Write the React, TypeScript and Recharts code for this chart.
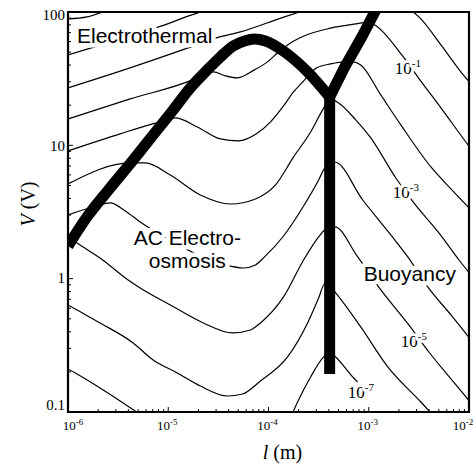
import React from 'react';
import { LineChart, Line, XAxis, YAxis, ReferenceArea, ReferenceDot } from 'recharts';

// every pair is [log10 of l in m, log10 of V in V]
type Pt = [number, number];

// thick regime boundaries
const boundaryEtAc: Pt[] = [
  [-6.0, 0.245], [-5.81, 0.463], [-5.58, 0.68], [-5.35, 0.89], [-5.15, 1.078], [-4.95, 1.266],
  [-4.78, 1.431], [-4.61, 1.566], [-4.48, 1.663], [-4.35, 1.746], [-4.24, 1.783], [-4.14, 1.798],
  [-4.03, 1.783], [-3.84, 1.701], [-3.61, 1.551], [-3.39, 1.363],
];
const boundaryBuoyUpper: Pt[] = [[-3.39, 1.363], [-3.24, 1.588], [-3.07, 1.813], [-2.94, 2.0], [-2.9, 2.061]];
const boundaryBuoyLower: Pt[] = [[-3.39, 1.363], [-3.39, -0.715]];

// thin contours, one decade of velocity apart
const contourP2: Pt[] = [[-6.0, 1.948], [-5.81, 1.963], [-5.63, 2.008]];
const contourP1: Pt[] = [
  [-6.0, 1.678], [-5.8, 1.723], [-5.38, 1.821], [-4.98, 1.918], [-4.85, 1.956], [-4.68, 2.001], [-4.63, 2.016],
];
const contour0: Pt[] = [
  [-6.0, 1.431], [-5.38, 1.581], [-4.83, 1.723], [-4.52, 1.806], [-4.28, 1.851], [-3.87, 1.956], [-3.66, 2.008],
];
const contour0Buoy: Pt[] = [[-2.58, 2.016], [-2.48, 1.948], [-2.28, 1.753], [-2.04, 1.513], [-1.98, 1.461]];
const contourM1: Pt[] = [
  [-6.0, 1.198], [-5.38, 1.348], [-4.76, 1.491], [-4.67, 1.521], [-4.55, 1.551], [-4.43, 1.521], [-4.31, 1.506],
  [-4.14, 1.566], [-4.01, 1.626], [-3.91, 1.693], [-3.78, 1.768], [-3.67, 1.813], [-3.37, 1.881], [-3.07, 1.918],
  [-3.02, 1.926], [-2.94, 1.903], [-2.67, 1.678], [-2.49, 1.491], [-2.28, 1.281], [-2.01, 1.003], [-1.98, 0.973],
];
const contourM2: Pt[] = [
  [-6.0, 0.958], [-5.48, 1.086], [-5.05, 1.183], [-4.93, 1.206], [-4.71, 1.138], [-4.48, 1.048], [-4.3, 1.033],
  [-4.12, 1.086], [-3.98, 1.176], [-3.85, 1.296], [-3.75, 1.401], [-3.64, 1.491], [-3.58, 1.543], [-3.52, 1.581],
  [-3.38, 1.611], [-3.24, 1.626], [-3.16, 1.626], [-3.08, 1.603], [-2.88, 1.378], [-2.68, 1.153], [-2.38, 0.838],
  [-2.18, 0.673], [-1.98, 0.515],
];
const contourM3: Pt[] = [
  [-6.0, 0.71], [-5.38, 0.868], [-5.23, 0.868], [-4.98, 0.778], [-4.68, 0.628], [-4.38, 0.56], [-4.13, 0.598],
  [-3.93, 0.703], [-3.75, 0.913], [-3.58, 1.1], [-3.46, 1.266], [-3.39, 1.348], [-3.3, 1.318], [-3.13, 1.191],
  [-2.98, 1.056], [-2.73, 0.755], [-2.55, 0.568], [-2.3, 0.343], [-2.1, 0.14], [-1.98, 0.028],
];
const contourM4: Pt[] = [
  [-6.0, 0.478], [-5.72, 0.545], [-5.58, 0.568], [-5.43, 0.508], [-5.28, 0.425], [-4.98, 0.29], [-4.68, 0.17],
  [-4.43, 0.103], [-4.25, 0.08], [-4.13, 0.103], [-4.04, 0.163], [-3.85, 0.32], [-3.65, 0.545], [-3.5, 0.74],
  [-3.44, 0.83], [-3.39, 0.875], [-3.34, 0.875], [-3.06, 0.59], [-2.78, 0.328], [-2.61, 0.163], [-2.41, -0.063],
  [-2.18, -0.272], [-1.98, -0.46],
];
const contourM5: Pt[] = [
  [-5.98, 0.305], [-5.91, 0.268], [-5.68, 0.155], [-5.4, -0.01], [-5.28, -0.07], [-4.98, -0.197], [-4.65, -0.332],
  [-4.36, -0.407], [-4.18, -0.385], [-4.08, -0.332], [-3.85, -0.137], [-3.65, 0.14], [-3.5, 0.313], [-3.44, 0.365],
  [-3.39, 0.38], [-3.34, 0.388], [-3.11, 0.163], [-2.9, -0.063], [-2.6, -0.347], [-2.4, -0.55], [-2.18, -0.752],
  [-1.98, -0.932],
];
const contourM6: Pt[] = [
  [-6.0, -0.197], [-5.91, -0.235], [-5.68, -0.332], [-5.35, -0.482], [-5.15, -0.61], [-4.91, -0.707],
  [-4.68, -0.805], [-4.41, -0.88], [-4.26, -0.865], [-4.08, -0.767], [-3.81, -0.587], [-3.61, -0.332],
  [-3.5, -0.145], [-3.44, -0.04], [-3.39, -0.055], [-3.33, -0.107], [-3.08, -0.362], [-2.81, -0.662],
  [-2.48, -0.925], [-2.37, -1.015],
];
const contourM7Left: Pt[] = [[-6.0, -0.677], [-5.91, -0.715], [-5.68, -0.82], [-5.48, -0.917], [-5.3, -1.008]];
const contourM7Right: Pt[] = [
  [-3.76, -1.008], [-3.71, -0.925], [-3.58, -0.737], [-3.45, -0.587], [-3.39, -0.55], [-3.33, -0.587],
  [-3.15, -0.745], [-3.11, -0.775],
];

const contours = [
  contourP2, contourP1, contour0, contour0Buoy, contourM1, contourM2, contourM3,
  contourM4, contourM5, contourM6, contourM7Left, contourM7Right,
];

const regionLabels = [
  { lines: ['Electrothermal'], l: 1.23e-6, v: 58.6, anchor: 'start' },
  { lines: ['AC Electro-', 'osmosis'], l: 1.55e-5, v: 1.79, anchor: 'middle' },
  { lines: ['Buoyancy'], l: 8.9e-4, v: 0.96, anchor: 'start' },
];
const decadeLabels = [
  { exp: '-1', l: 1.82e-3, v: 34.3 },
  { exp: '-3', l: 1.74e-3, v: 4.03 },
  { exp: '-5', l: 2.09e-3, v: 0.307 },
  { exp: '-7', l: 6.17e-4, v: 0.127 },
];

const xMajor = [1e-6, 1e-5, 1e-4, 1e-3, 1e-2];
const xExponents = ['-6', '-5', '-4', '-3', '-2'];
const yMajor = [0.1, 1, 10, 100];
const yTickText = ['0.1', '1', '10', '100'];
const minorSteps = [2, 3, 4, 5, 6, 7, 8, 9];

const withMinor = (majors: number[]) =>
  [...majors, ...majors.slice(0, -1).flatMap((m) => minorSteps.map((k) => m * k))].sort((a, b) => a - b);
const xTicks = withMinor(xMajor);
const yTicks = withMinor(yMajor);

const rows = (pts: Pt[]) => pts.map(([a, b]) => ({ l: 10 ** a, v: 10 ** b }));

const SERIF = '"Liberation Serif", "Times New Roman", serif';
const SANS = '"Liberation Sans", Arial, sans-serif';

const xLabelShift = [5, -1, -1, -1, -6];

const BottomTick = ({ x, y, payload }: any) => {
  const i = xMajor.indexOf(payload.value);
  return (
    <g>
      <line x1={x} x2={x} y1={y} y2={y - (i >= 0 ? 5 : 3)} stroke="#000" />
      {i >= 0 && (
        <text x={x + xLabelShift[i]} y={y + 18} textAnchor="middle" fontFamily={SERIF} fontSize={13} fill="#000">
          10<tspan dy={-5} fontSize={9}>{xExponents[i]}</tspan>
        </text>
      )}
    </g>
  );
};

const TopTick = ({ x, y, payload }: any) => {
  const major = xMajor.indexOf(payload.value) >= 0;
  return <line x1={x} x2={x} y1={y} y2={y + (major ? 5 : 3)} stroke="#000" />;
};

const LeftTick = ({ x, y, payload }: any) => {
  const i = yMajor.indexOf(payload.value);
  const shift = [-7, -1, 0, 3];
  return (
    <g>
      <line x1={x} x2={x + (i >= 0 ? 5 : 3)} y1={y} y2={y} stroke="#000" />
      {i >= 0 && (
        <text x={x - 3} y={y + shift[i]} dy="0.35em" textAnchor="end" fontFamily={SERIF} fontSize={15} fill="#000">
          {yTickText[i]}
        </text>
      )}
    </g>
  );
};

const RightTick = ({ x, y, payload }: any) => {
  const major = yMajor.indexOf(payload.value) >= 0;
  return <line x1={x} x2={x - (major ? 5 : 3)} y1={y} y2={y} stroke="#000" />;
};

const XTitle = ({ viewBox }: any) => (
  <text x={viewBox.x + viewBox.width / 2 + 14} y={viewBox.y + 47} textAnchor="middle" fontFamily={SERIF} fontSize={20} fill="#000">
    <tspan fontStyle="italic">l</tspan> (m)
  </text>
);

const YTitle = ({ viewBox }: any) => {
  const cx = 28;
  const cy = viewBox.y + viewBox.height / 2 - 8;
  return (
    <text x={cx} y={cy} transform={`rotate(-90 ${cx} ${cy})`} textAnchor="middle" dy="0.35em" fontFamily={SERIF} fontSize={20} fill="#000">
      <tspan fontStyle="italic">V</tspan> (V)
    </text>
  );
};

const RegionText = ({ viewBox, lines, anchor }: any) => (
  <text
    x={viewBox.x}
    y={viewBox.y}
    textAnchor={anchor}
    fontFamily={SANS}
    fontSize={21}
    fill="#000"
    stroke="#fff"
    strokeWidth={9}
    strokeLinejoin="round"
    paintOrder="stroke"
  >
    {lines.map((t: string, k: number) => (
      <tspan key={k} x={viewBox.x} dy={k === 0 ? 0 : 23}>
        {t}
      </tspan>
    ))}
  </text>
);

const DecadeText = ({ viewBox, exp }: any) => (
  <text
    x={viewBox.x}
    y={viewBox.y}
    fontFamily={SERIF}
    fontSize={17}
    fill="#000"
    stroke="#fff"
    strokeWidth={6}
    strokeLinejoin="round"
    paintOrder="stroke"
  >
    10<tspan dy={-7} fontSize={11}>{exp}</tspan>
  </text>
);

const THICK = 11;

export default function App() {
  return (
    <div style={{ position: 'absolute', left: 0, top: 0, background: '#fff' }}>
      <LineChart width={474} height={470} margin={{ top: 12, right: 5, bottom: 0, left: 0 }}>
        <XAxis
          dataKey="l"
          type="number"
          scale="log"
          domain={[1e-6, 1e-2]}
          allowDataOverflow
          ticks={xTicks}
          interval={0}
          tick={<BottomTick />}
          tickLine={false}
          axisLine={false}
          tickSize={0}
          tickMargin={0}
          height={58}
          label={<XTitle />}
        />
        <XAxis
          xAxisId="top"
          orientation="top"
          type="number"
          scale="log"
          domain={[1e-6, 1e-2]}
          allowDataOverflow
          ticks={xTicks}
          interval={0}
          tick={<TopTick />}
          tickLine={false}
          axisLine={false}
          tickSize={0}
          tickMargin={0}
          height={0}
        />
        <YAxis
          dataKey="v"
          type="number"
          scale="log"
          domain={[0.1, 100]}
          allowDataOverflow
          ticks={yTicks}
          interval={0}
          tick={<LeftTick />}
          tickLine={false}
          axisLine={false}
          tickSize={0}
          tickMargin={0}
          width={68}
          label={<YTitle />}
        />
        <YAxis
          yAxisId="right"
          orientation="right"
          type="number"
          scale="log"
          domain={[0.1, 100]}
          allowDataOverflow
          ticks={yTicks}
          interval={0}
          tick={<RightTick />}
          tickLine={false}
          axisLine={false}
          tickSize={0}
          tickMargin={0}
          width={0}
        />
        {contours.map((c, i) => (
          <Line
            key={`c${i}`}
            data={rows(c)}
            dataKey="v"
            type="monotone"
            stroke="#000"
            strokeWidth={1.2}
            dot={false}
            activeDot={false}
            isAnimationActive={false}
          />
        ))}
        <Line
          data={rows(boundaryEtAc)}
          dataKey="v"
          type="monotone"
          stroke="#000"
          strokeWidth={THICK}
          strokeLinejoin="round"
          dot={false}
          activeDot={false}
          isAnimationActive={false}
        />
        <Line
          data={rows(boundaryBuoyUpper)}
          dataKey="v"
          type="linear"
          stroke="#000"
          strokeWidth={THICK}
          strokeLinecap="round"
          strokeLinejoin="round"
          dot={false}
          activeDot={false}
          isAnimationActive={false}
        />
        <Line
          data={rows(boundaryBuoyLower)}
          dataKey="v"
          type="linear"
          stroke="#000"
          strokeWidth={THICK}
          dot={false}
          activeDot={false}
          isAnimationActive={false}
        />
        <ReferenceArea x1={1e-6} x2={1e-2} y1={0.1} y2={100} fill="none" stroke="#000" strokeWidth={2.2} />
        {regionLabels.map((r, i) => (
          <ReferenceDot
            key={`r${i}`}
            x={r.l}
            y={r.v}
            r={0}
            fill="none"
            stroke="none"
            label={<RegionText lines={r.lines} anchor={r.anchor} />}
          />
        ))}
        {decadeLabels.map((d, i) => (
          <ReferenceDot
            key={`d${i}`}
            x={d.l}
            y={d.v}
            r={0}
            fill="none"
            stroke="none"
            label={<DecadeText exp={d.exp} />}
          />
        ))}
      </LineChart>
    </div>
  );
}
